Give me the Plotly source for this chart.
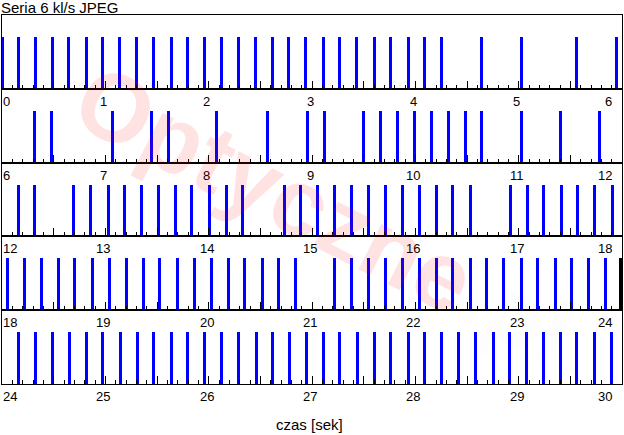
import plotly.graph_objects as go
from plotly.subplots import make_subplots

# ---- data: capture times of frames (seconds), one list per 6-second strip ----
times_row1 = [0.0, 0.158, 0.322, 0.487, 0.642, 0.816, 0.971, 1.135, 1.304, 1.464,
              1.636, 1.793, 1.958, 2.122, 2.284, 2.449, 2.613, 2.775, 2.935, 3.110,
              3.264, 3.429, 3.603, 3.758, 3.932, 4.087, 4.251, 4.638, 5.026, 5.558, 5.945]
times_row2 = [6.313, 6.477, 7.067, 7.445, 7.609, 8.074, 8.567, 8.955, 9.119, 9.497,
              9.661, 9.826, 9.990, 10.152, 10.319, 10.484, 10.638, 11.032, 11.403, 11.780]
times_row3 = [12.158, 12.313, 12.690, 12.855, 13.029, 13.184, 13.348, 13.513, 13.677, 13.832,
              14.006, 14.171, 14.326, 14.732, 14.887, 15.056, 15.216, 15.381, 15.545, 15.710,
              15.874, 16.039, 16.203, 16.358, 16.532, 16.919, 17.084, 17.239, 17.413, 17.568,
              17.732, 17.906]
times_row4 = [18.051, 18.216, 18.380, 18.545, 18.700, 18.874, 19.039, 19.203, 19.368, 19.523,
              19.697, 19.861, 20.026, 20.190, 20.345, 20.519, 20.674, 20.839, 21.216, 21.381,
              21.545, 21.710, 21.874, 22.039, 22.203, 22.358, 22.532, 22.687, 22.852, 23.026,
              23.181, 23.355, 23.510, 23.674, 23.839, 23.990]
times_row5 = [24.158, 24.322, 24.487, 24.651, 24.816, 24.971, 25.145, 25.309, 25.464, 25.638,
              25.793, 25.958, 26.122, 26.287, 26.461, 26.616, 26.780, 26.945, 27.110, 27.264,
              27.439, 27.603, 27.758, 27.932, 28.087, 28.251, 28.416, 28.581, 28.755, 28.910,
              29.074, 29.239, 29.403, 29.558, 29.732, 29.897]
row_starts = [0, 6, 12, 18, 24]
row_length = 6

title_text = "Seria 6 kl/s JPEG"
xaxis_title = "czas [sek]"

rows = [times_row1, times_row2, times_row3, times_row4, times_row5]

W, H = 624, 435
ML, MR, MT, MB = 2, 2, 15, 51
plot_h = H - MT - MB
row_h = plot_h / 5.0
bar_px = 52.0
ymax = row_h / bar_px
px_per_sec = (W - ML - MR) / row_length
bar_w = 3.0 / px_per_sec

fig = make_subplots(rows=5, cols=1, vertical_spacing=0)

for i, (times, start) in enumerate(zip(rows, row_starts)):
    r = i + 1
    colors = ["#000000" if t >= start + row_length - 0.02 else "#0000FF" for t in times]
    fig.add_trace(go.Bar(x=times, y=[1] * len(times), width=bar_w,
                         marker=dict(color=colors, line=dict(width=0)),
                         showlegend=False, hoverinfo="x"), row=r, col=1)
    fig.update_xaxes(range=[start, start + row_length], showgrid=False, zeroline=False,
                     showline=True, linecolor="black", linewidth=1, mirror=True,
                     ticks="inside", tickmode="linear", tick0=start, dtick=0.5,
                     ticklen=8, tickwidth=1, tickcolor="black", showticklabels=False,
                     minor=dict(ticks="inside", dtick=0.1, tick0=start, ticklen=4,
                                tickwidth=1, tickcolor="black", showgrid=False),
                     row=r, col=1)
    fig.update_yaxes(range=[0, ymax], showgrid=False, zeroline=False, showline=True,
                     linecolor="black", linewidth=1, mirror=True, ticks="",
                     showticklabels=False, row=r, col=1)

annotations = []
for i, start in enumerate(row_starts):
    xref = "x" if i == 0 else f"x{i+1}"
    yref = "y domain" if i == 0 else f"y{i+1} domain"
    for s in range(start, start + row_length + 1):
        if s == start:
            xa, xs = "left", -1
        elif s == start + row_length:
            xa, xs = "right", -8
        else:
            xa, xs = "center", -2
        annotations.append(dict(text=str(s), x=s, xref=xref, y=0, yref=yref,
                                xanchor=xa, yanchor="top", xshift=xs, yshift=-3,
                                showarrow=False,
                                font=dict(family="Liberation Sans, Arial", size=13, color="black")))

annotations.append(dict(text=title_text, x=0, xref="paper", y=1, yref="paper",
                        xanchor="left", yanchor="bottom", xshift=-3, yshift=-3, showarrow=False,
                        font=dict(family="Liberation Sans, Arial", size=15, color="black")))
annotations.append(dict(text=xaxis_title, x=0.5, xref="paper", y=0, yref="paper",
                        xanchor="center", yanchor="top", xshift=-3, yshift=-30, showarrow=False,
                        font=dict(family="Liberation Sans, Arial", size=15, color="black")))
# faint watermark
annotations.append(dict(text="<b>Optyczne</b><span style='color:rgba(120,120,120,0.12)'><b>.pl</b></span>",
                        x=0.521, xref="paper", y=0.46, yref="paper", textangle=27,
                        showarrow=False,
                        font=dict(family="Liberation Sans, Arial", size=96,
                                  color="rgba(255,0,0,0.11)")))

fig.update_layout(width=W, height=H, margin=dict(l=ML, r=MR, t=MT, b=MB),
                  plot_bgcolor="white", paper_bgcolor="white", bargap=0,
                  annotations=annotations)

fig.write_html("out.html", config={"displayModeBar": False},
               post_script="document.body.style.margin='0';document.body.style.padding='0';")
